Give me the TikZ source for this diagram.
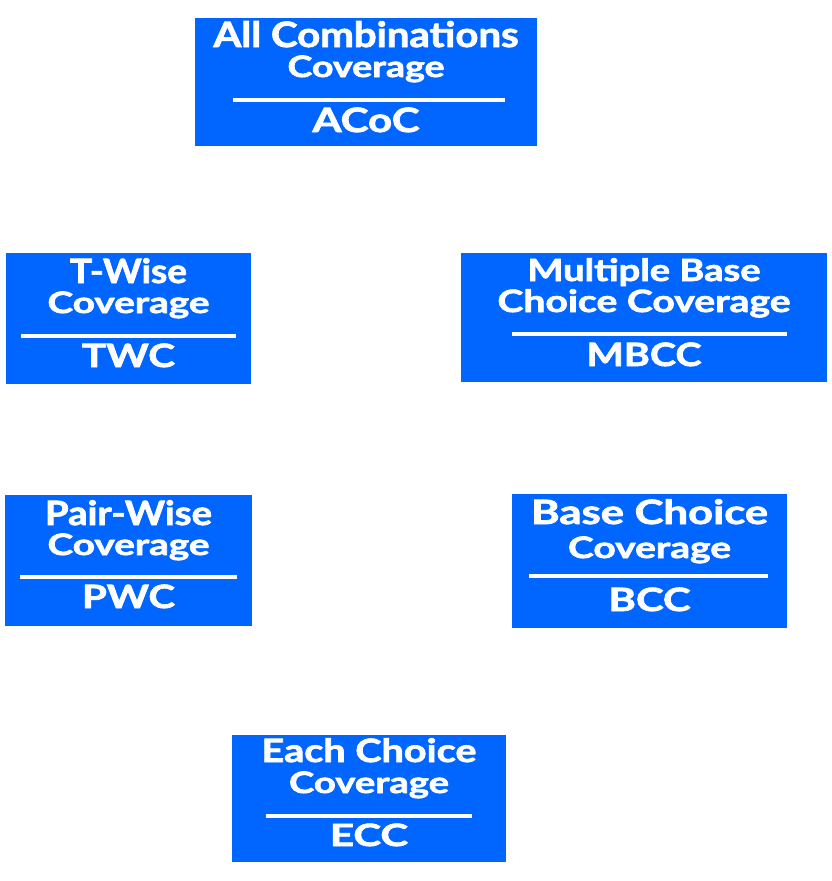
\documentclass[tikz,border=0pt]{standalone}
\usepackage{fontspec}
\setmainfont{Lato}[BoldFeatures={FakeBold=2}]
\usepackage{graphicx}
\definecolor{boxblue}{HTML}{0066FF}
\newcommand{\tline}[3]{\resizebox{#1pt}{\height}{\fontsize{#2pt}{#2pt}\selectfont\bfseries #3}}
\tikzset{
  box/.style={fill=boxblue, draw=none, inner sep=0pt},
  txt/.style={text=white, inner sep=0pt, anchor=base},
  sepline/.style={white, line width=4.5pt}
}
\begin{document}
\begin{tikzpicture}[x=1pt,y=-1pt]
\useasboundingbox (0,0) rectangle (832,881);
% ACoC
\node[box, minimum width=342pt, minimum height=128pt] (acoc) at (366,82) {};
\node[txt] (acoc1) at (366,47) {\tline{305}{34.9}{All Combinations}};
\node[txt] (acoc2) at (366,77) {\tline{157}{29.5}{Coverage}};
\node[txt] (acoc3) at (366,132) {\tline{107}{33.5}{ACoC}};
\coordinate (acocL) at (233,100); \coordinate (acocR) at (505,100);
\draw[sepline] (acocL) -- (acocR);
% TWC
\node[box, minimum width=245pt, minimum height=131pt] (twc) at (128.5,318.5) {};
\node[txt] (twc1) at (128.5,283) {\tline{117}{33.5}{T-Wise}};
\node[txt] (twc2) at (128.5,313) {\tline{162}{29.5}{Coverage}};
\node[txt] (twc3) at (128.5,367) {\tline{93}{32.1}{TWC}};
\coordinate (twcL) at (21,336); \coordinate (twcR) at (236,336);
\draw[sepline] (twcL) -- (twcR);
% MBCC
\node[box, minimum width=366pt, minimum height=129pt] (mbcc) at (644,317.5) {};
\node[txt] (mbcc1) at (644,281) {\tline{233}{30.7}{Multiple Base}};
\node[txt] (mbcc2) at (644,312) {\tline{293}{30.7}{Choice Coverage}};
\node[txt] (mbcc3) at (644,366) {\tline{115}{32.1}{MBCC}};
\coordinate (mbccL) at (512,334); \coordinate (mbccR) at (787,334);
\draw[sepline] (mbccL) -- (mbccR);
% PWC
\node[box, minimum width=247pt, minimum height=131pt] (pwc) at (128.5,560.5) {};
\node[txt] (pwc1) at (128.5,525) {\tline{167}{33.5}{Pair-Wise}};
\node[txt] (pwc2) at (128.5,555) {\tline{162}{29.5}{Coverage}};
\node[txt] (pwc3) at (128.5,608) {\tline{93}{32.1}{PWC}};
\coordinate (pwcL) at (20,577); \coordinate (pwcR) at (237,577);
\draw[sepline] (pwcL) -- (pwcR);
% BCC
\node[box, minimum width=275pt, minimum height=134pt] (bcc) at (649.5,561) {};
\node[txt] (bcc1) at (649.5,524) {\tline{237}{33.5}{Base Choice}};
\node[txt] (bcc2) at (649.5,558) {\tline{163}{29.5}{Coverage}};
\node[txt] (bcc3) at (649.5,611) {\tline{82}{32.1}{BCC}};
\coordinate (bccL) at (529,576); \coordinate (bccR) at (768,576);
\draw[sepline] (bccL) -- (bccR);
% ECC
\node[box, minimum width=274pt, minimum height=127pt] (ecc) at (369,798.5) {};
\node[txt] (ecc1) at (369,762) {\tline{215}{32.1}{Each Choice}};
\node[txt] (ecc2) at (369,793) {\tline{160}{29.5}{Coverage}};
\node[txt] (ecc3) at (369,846) {\tline{78}{30.7}{ECC}};
\coordinate (eccL) at (266,816); \coordinate (eccR) at (472,816);
\draw[sepline] (eccL) -- (eccR);
\end{tikzpicture}
\end{document}
